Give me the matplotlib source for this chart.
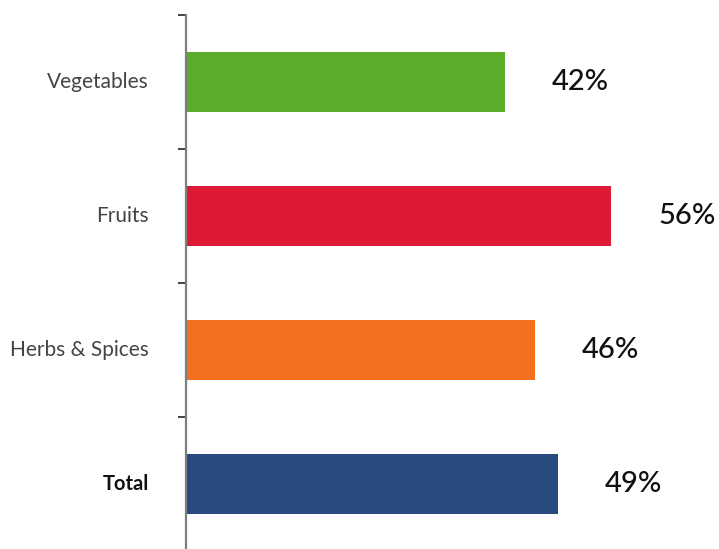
import matplotlib.pyplot as plt
import numpy as np

categories = ["Vegetables", "Fruits", "Herbs & Spices", "Total"]
values = [42, 56, 46, 49]
colors = ["#5BAD29", "#DC1A35", "#F37021", "#284A7E"]

fig = plt.figure(figsize=(7.19, 5.49), dpi=100)
W, H = 719, 549
# axes spans from the spine at x=186 to the right edge, y from 15 to 551 px
ax = fig.add_axes([186 / W, (H - 551) / H, (W - 186) / W, (551 - 15) / H])

y = np.arange(len(categories))
ax.barh(y, values, height=0.45, color=colors, zorder=2)

px_per_unit = 7.59
ax.set_xlim(0, (W - 186) / px_per_unit)
ax.set_ylim(len(categories) - 0.5, -0.5)

# value labels sit a fixed gap to the right of each bar
for yi, v in zip(y, values):
    ax.text(v + 47 / px_per_unit, yi, f"{v}%", ha="left", va="center",
            fontsize=21, family="Lato", fontweight="medium", color="#111111")

# category labels, Total in bold
for yi, name in zip(y, categories):
    bold = name == "Total"
    ax.text(-37 / px_per_unit, yi, name, ha="right", va="center",
            fontsize=14.5 if bold else 15, family="Lato",
            fontweight="bold" if bold else "normal",
            color="#111111" if bold else "#444444")

# boundary ticks between categories
ax.set_yticks(np.arange(-0.5, len(categories), 1.0))
ax.set_yticklabels([])
ax.tick_params(axis="y", length=6, width=1.2, color="#222222", direction="out")
ax.set_xticks([])

for side in ["top", "right", "bottom"]:
    ax.spines[side].set_visible(False)
ax.spines["left"].set_color("#7f7f7f")
ax.spines["left"].set_linewidth(1.6)

fig.savefig("out.png", dpi=100)
